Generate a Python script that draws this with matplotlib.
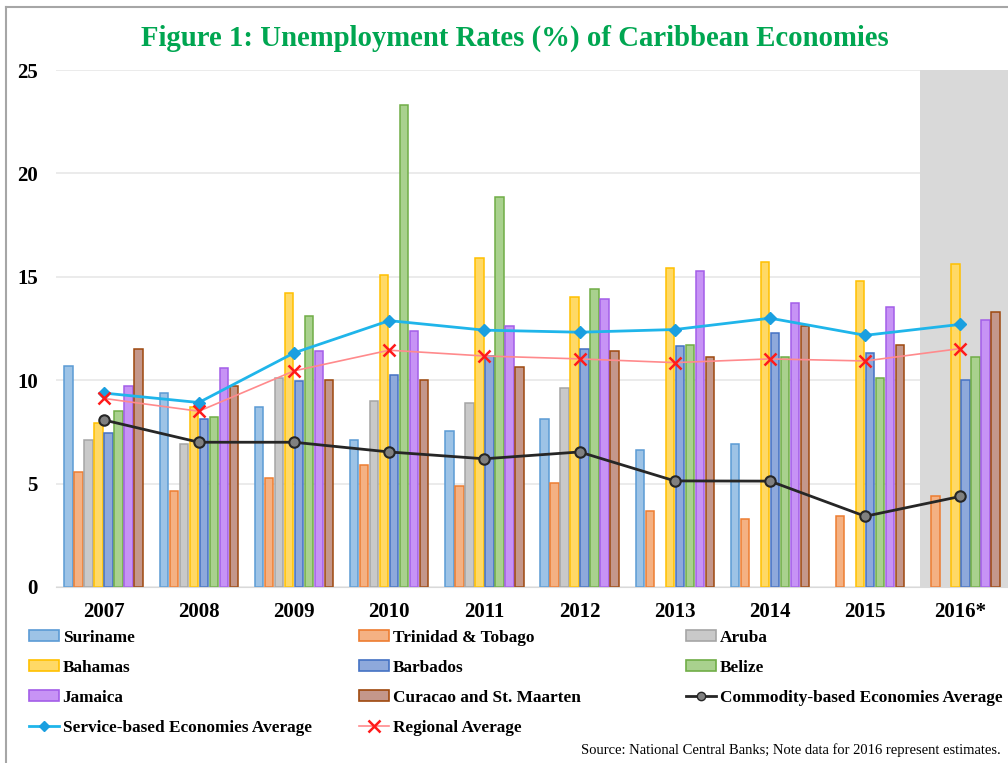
import numpy as np
import matplotlib
matplotlib.use("Agg")
import matplotlib.pyplot as plt
from matplotlib.lines import Line2D
from matplotlib.patches import Patch

plt.rcParams['font.family'] = ['Liberation Serif', 'DejaVu Serif']

nan = np.nan
years = ['2007', '2008', '2009', '2010', '2011', '2012', '2013', '2014', '2015', '2016*']

# bar series (unemployment rate, %)
suriname = [10.7, 9.37, 8.72, 7.13, 7.55, 8.12, 6.62, 6.93, nan, nan]
trinidad = [5.55, 4.63, 5.25, 5.88, 4.88, 5.02, 3.67, 3.28, 3.42, 4.4]
aruba = [7.12, 6.92, 10.13, 9.0, 8.9, 9.6, nan, nan, nan, nan]
bahamas = [7.92, 8.7, 14.22, 15.08, 15.92, 14.02, 15.42, 15.72, 14.82, 15.62]
barbados = [7.45, 8.13, 9.97, 10.27, 11.17, 11.5, 11.67, 12.28, 11.32, 10.0]
belize = [8.5, 8.2, 13.12, 23.33, 18.87, 14.42, 11.7, 11.12, 10.12, 11.12]
jamaica = [9.7, 10.58, 11.4, 12.38, 12.63, 13.92, 15.27, 13.75, 13.53, 12.92]
curacao = [11.53, 9.72, 10.0, 10.0, 10.65, 11.4, 11.13, 12.62, 11.7, 13.32]

# averages
commodity_avg = [8.08, 7.0, 7.0, 6.53, 6.2, 6.53, 5.13, 5.12, 3.42, 4.38]
service_avg = [9.38, 8.92, 11.32, 12.88, 12.42, 12.32, 12.45, 13.0, 12.17, 12.7]
regional_avg = [9.12, 8.5, 10.45, 11.45, 11.17, 11.03, 10.85, 11.03, 10.93, 11.53]

bar_names = ['Suriname', 'Trinidad & Tobago', 'Aruba', 'Bahamas', 'Barbados',
             'Belize', 'Jamaica', 'Curacao and St. Maarten']
bar_data = [suriname, trinidad, aruba, bahamas, barbados, belize, jamaica, curacao]
fills = ['#9dc3e6', '#f4b183', '#c9c9c9', '#ffd966', '#8ea9db', '#a9d18e', '#c793f5', '#c4978b']
edges = ['#5b9bd5', '#ed7d31', '#a5a5a5', '#ffc000', '#4472c4', '#70ad47', '#a35ee8', '#9e480e']

fig = plt.figure(figsize=(10.08, 7.63), dpi=100)
ax = fig.add_axes([56 / 1008, 1 - 587 / 763, 952 / 1008, 517 / 763])

x = np.arange(len(years))
slot = 0.105
width = 0.088

# shaded estimate region
ax.axvspan(8.58, 9.5, color='#d9d9d9', zorder=1, lw=0)

for i, (name, vals) in enumerate(zip(bar_names, bar_data)):
    ax.bar(x + (i - 3.5) * slot, vals, width, color=fills[i], edgecolor=edges[i],
           linewidth=1.1, zorder=2, label=name)

ax.plot(x, commodity_avg, color='#262626', lw=2, marker='o', ms=7.5,
        mfc='#808080', mec='#262626', mew=1.5, zorder=4)
ax.plot(x, service_avg, color='#1fb5ea', lw=2, marker='D', ms=6,
        mfc='#1a9fe0', mec='#1a9fe0', zorder=4)
ax.plot(x, regional_avg, color='#ff8a8c', lw=1.2, zorder=3)
ax.plot(x, regional_avg, ls='none', marker='x', ms=8, mew=1.8, color='#ff1a1a', zorder=4)

ax.set_xlim(-0.5, 9.5)
ax.set_ylim(0, 25)
ax.set_yticks([0, 5, 10, 15, 20, 25])
ax.set_xticks(x)
ax.set_xticklabels(years)
ax.tick_params(axis='y', length=0, pad=13, labelsize=15)
ax.tick_params(axis='x', length=0, pad=11, labelsize=15)
for lab in ax.get_xticklabels() + ax.get_yticklabels():
    lab.set_fontweight('bold')
ax.grid(axis='y', color='#e8e8e8', lw=1.2)
ax.set_axisbelow(True)
for s in ['top', 'right', 'left']:
    ax.spines[s].set_visible(False)
ax.spines['bottom'].set_color('#d9d9d9')

fig.text(0.511, 1 - 38 / 763, 'Figure 1: Unemployment Rates (%) of Caribbean Economies',
         ha='center', va='center', fontsize=20.7, fontweight='bold', color='#00a651')

# legend in three columns
def bar_handle(i):
    return Patch(facecolor=fills[i], edgecolor=edges[i], lw=1.2, label=bar_names[i])

h_comm = Line2D([], [], color='#262626', lw=2, marker='o', ms=6, mfc='#808080',
                mec='#262626', label='Commodity-based Economies Average')
h_serv = Line2D([], [], color='#1fb5ea', lw=2, marker='D', ms=5, mfc='#1a9fe0',
                mec='#1a9fe0', label='Service-based Economies Average')
h_reg = Line2D([], [], color='#ff8a8c', lw=1.2, marker='x', ms=8, mew=1.8,
               mec='#ff1a1a', label='Regional Average')

cols = [[bar_handle(0), bar_handle(3), bar_handle(6), h_serv],
        [bar_handle(1), bar_handle(4), bar_handle(7), h_reg],
        [bar_handle(2), bar_handle(5), h_comm]]
for cx, hs in zip([29, 359, 686], cols):
    fig.legend(handles=hs, loc='upper left', bbox_to_anchor=(cx / 1008, 1 - 630 / 763),
               frameon=False, ncol=1, borderpad=0, borderaxespad=0,
               handlelength=1.75, handleheight=0.6, handletextpad=0.2,
               labelspacing=0.81, prop={'weight': 'bold', 'size': 12.4})

fig.text(0.993, 1 - 750 / 763,
         'Source: National Central Banks; Note data for 2016 represent estimates.',
         ha='right', va='center', fontsize=10.5)

# outer frame lines of the original graphic
fig.add_artist(Line2D([6 / 1008, 6 / 1008], [0, 1 - 7 / 763], color='#a6a6a6', lw=1.5))
fig.add_artist(Line2D([6 / 1008, 1], [1 - 7 / 763, 1 - 7 / 763], color='#a6a6a6', lw=1.5))

fig.savefig('out.png', dpi=100)
